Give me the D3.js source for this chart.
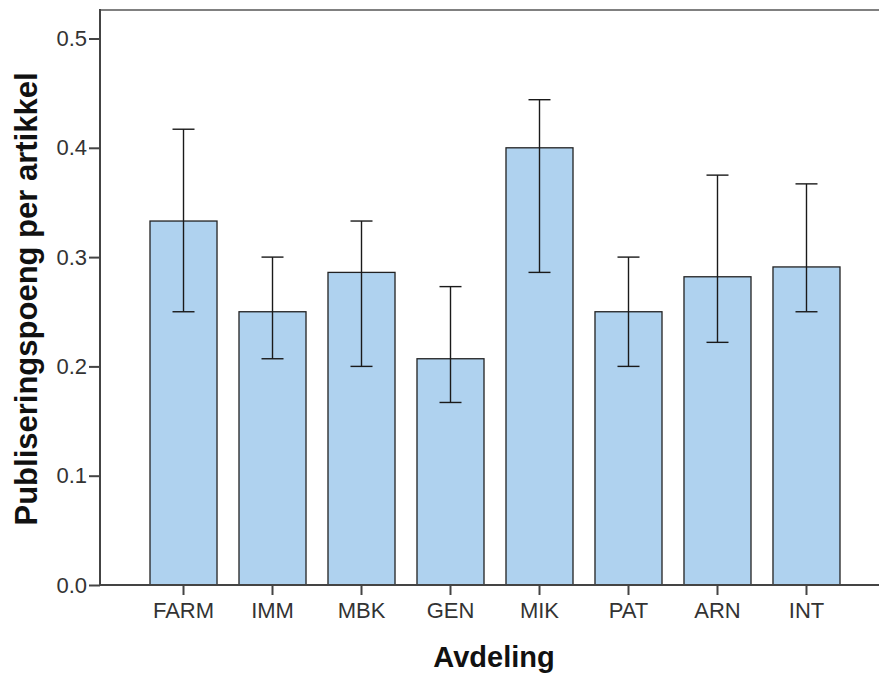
<!DOCTYPE html>
<html>
<head>
<meta charset="utf-8">
<script src="https://cdn.jsdelivr.net/npm/d3@7"></script>
<style>
  body { margin: 0; background: #fff; }
  svg { display: block; }
</style>
</head>
<body>
<svg id="chart" width="879" height="675"></svg>
<script>
// data
var categories = ["FARM", "IMM", "MBK", "GEN", "MIK", "PAT", "ARN", "INT"];
var means = [0.333, 0.250, 0.286, 0.207, 0.400, 0.250, 0.282, 0.291];
var ciLow = [0.250, 0.207, 0.200, 0.167, 0.286, 0.200, 0.222, 0.250];
var ciHigh = [0.417, 0.300, 0.333, 0.273, 0.444, 0.300, 0.375, 0.367];
var yTicks = [0.0, 0.1, 0.2, 0.3, 0.4, 0.5];

var svg = d3.select("#chart");
var margin = { top: 10, left: 100, bottom: 585, right: 879 };
var font = "'Liberation Sans', Arial, sans-serif";

var y = d3.scaleLinear()
    .domain([0, 0.5])
    .range([585, 38.5]);

var x = d3.scaleBand()
    .domain(categories)
    .range([150, 840])
    .paddingInner(0.247)
    .paddingOuter(0);

var data = categories.map(function (c, i) {
    return { cat: c, mean: means[i], lo: ciLow[i], hi: ciHigh[i] };
});

// bars
svg.selectAll("rect.bar")
    .data(data)
    .enter()
    .append("rect")
    .attr("class", "bar")
    .attr("x", function (d) { return x(d.cat); })
    .attr("y", function (d) { return y(d.mean); })
    .attr("width", x.bandwidth())
    .attr("height", function (d) { return y(0) - y(d.mean); })
    .attr("fill", "#afd2ef")
    .attr("stroke", "#222")
    .attr("stroke-width", 1.3);

// error bars
var capHalf = 11;
var eb = svg.append("g").attr("stroke", "#1a1a1a").attr("stroke-width", 1.4);
data.forEach(function (d) {
    var cx = x(d.cat) + x.bandwidth() / 2;
    eb.append("line").attr("x1", cx).attr("x2", cx).attr("y1", y(d.hi)).attr("y2", y(d.lo));
    eb.append("line").attr("x1", cx - capHalf).attr("x2", cx + capHalf).attr("y1", y(d.hi)).attr("y2", y(d.hi));
    eb.append("line").attr("x1", cx - capHalf).attr("x2", cx + capHalf).attr("y1", y(d.lo)).attr("y2", y(d.lo));
});

// frame
svg.append("line")
    .attr("x1", margin.left).attr("x2", margin.right)
    .attr("y1", margin.top).attr("y2", margin.top)
    .attr("stroke", "#808080").attr("stroke-width", 2);
svg.append("line")
    .attr("x1", margin.left).attr("x2", margin.left)
    .attr("y1", margin.top - 1).attr("y2", y(0))
    .attr("stroke", "#444").attr("stroke-width", 2);
svg.append("line")
    .attr("x1", margin.left).attr("x2", margin.right)
    .attr("y1", y(0)).attr("y2", y(0))
    .attr("stroke", "#444").attr("stroke-width", 2);

// y axis
var yAxis = svg.append("g")
    .attr("transform", "translate(" + margin.left + ",0)")
    .call(d3.axisLeft(y).tickValues(yTicks).tickFormat(d3.format(".1f")).tickSize(11).tickPadding(2));
yAxis.select(".domain").remove();
yAxis.selectAll(".tick line").attr("stroke", "#444").attr("stroke-width", 2);
yAxis.selectAll(".tick text")
    .attr("fill", "#333")
    .style("font-family", font)
    .style("font-size", "22px");

// x axis
var xAxis = svg.append("g")
    .attr("transform", "translate(0," + y(0) + ")")
    .call(d3.axisBottom(x).tickSize(10).tickPadding(7));
xAxis.select(".domain").remove();
xAxis.selectAll(".tick line").attr("stroke", "#444").attr("stroke-width", 2);
xAxis.selectAll(".tick text")
    .attr("fill", "#333")
    .style("font-family", font)
    .style("font-size", "22px");

// axis titles
svg.append("text")
    .attr("x", 494)
    .attr("y", 667)
    .attr("text-anchor", "middle")
    .style("font-family", font)
    .style("font-weight", "bold")
    .style("font-size", "29px")
    .attr("fill", "#111")
    .text("Avdeling");

svg.append("text")
    .attr("transform", "translate(37,299) rotate(-90)")
    .attr("text-anchor", "middle")
    .style("font-family", font)
    .style("font-weight", "bold")
    .style("font-size", "31px")
    .attr("fill", "#111")
    .text("Publiseringspoeng per artikkel");
</script>
</body>
</html>
